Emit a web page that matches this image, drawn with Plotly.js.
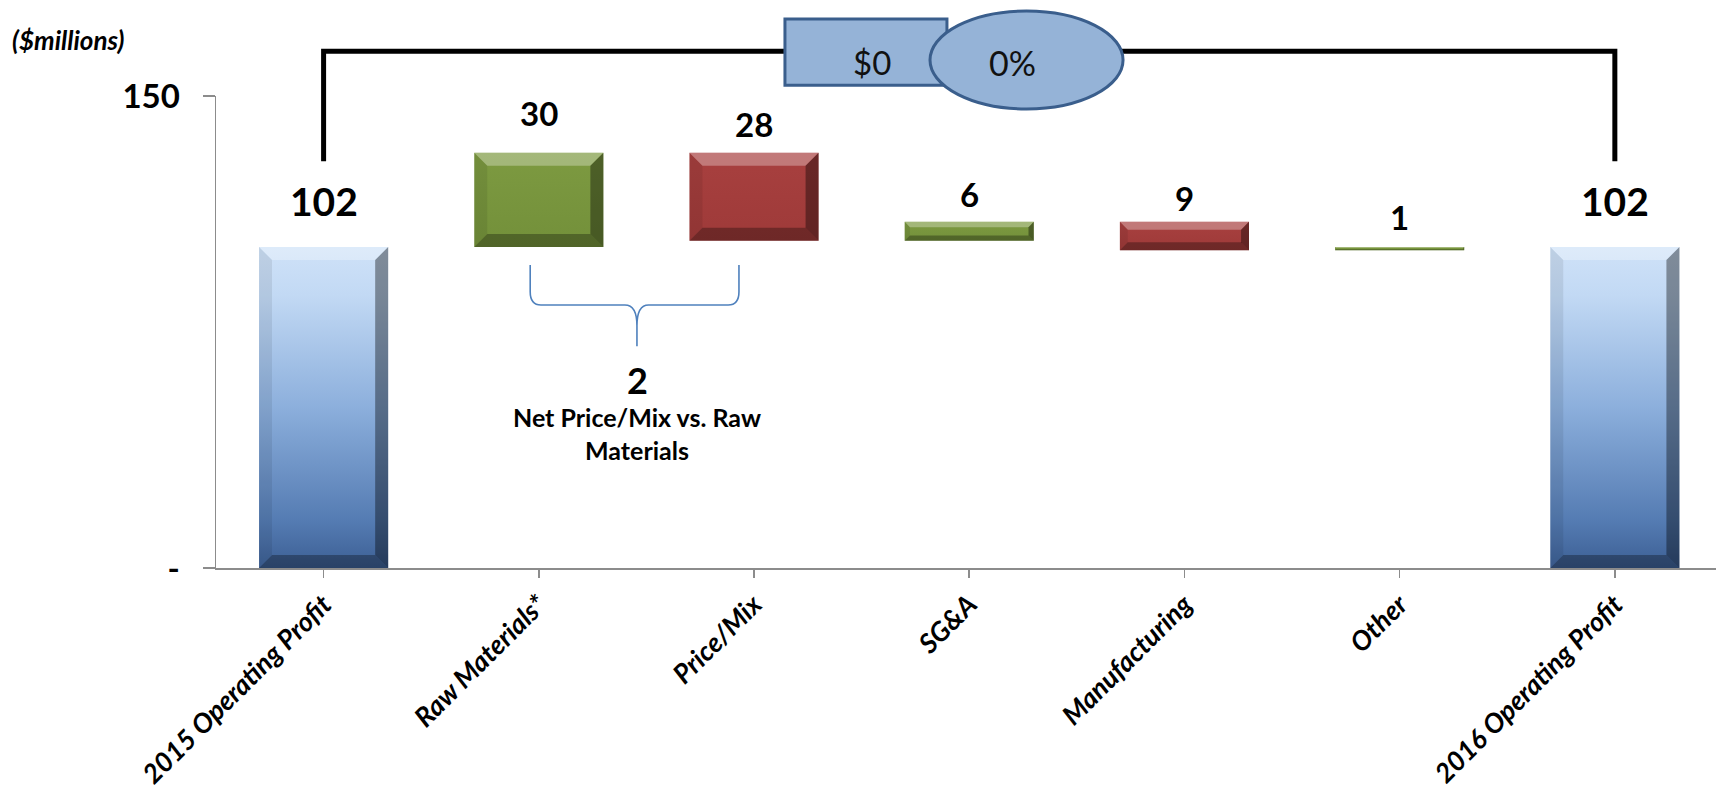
<!DOCTYPE html>
<html>
<head>
<meta charset="utf-8">
<script src="https://cdn.plot.ly/plotly-3.0.1.min.js"></script>
<style>
html,body{margin:0;padding:0;background:#fff;overflow:hidden;}
#chart{width:1716px;height:802px;}
</style>
</head>
<body>
<div id="chart"></div>
<script>
// ---- data ----
var categories = ['2015 Operating Profit', 'Raw Materials*', 'Price/Mix', 'SG&A', 'Manufacturing', 'Other', '2016 Operating Profit'];
var measures = ['total', 'delta', 'delta', 'delta', 'delta', 'delta', 'total'];
var values = [102, 30, -28, 6, -9, 1, 102];
var yTickVals = [0, 150];
var yTickText = ['-', '150'];
var netLabelValue = '2';
var netLabelText = 'Net Price/Mix vs. Raw<br>Materials';
var changeAmount = '$0';
var changePct = '0%';
var unitsText = '($millions)';

// ---- derived waterfall geometry ----
var xs = [], bases = [], heights = [], tops = [], kinds = [];
var running = 0;
for (var i = 0; i < values.length; i++) {
  xs.push(i);
  if (measures[i] === 'total') {
    bases.push(0); heights.push(values[i]); tops.push(values[i]);
    running = values[i]; kinds.push('total');
  } else {
    var start = running, end = running + values[i];
    bases.push(Math.min(start, end));
    heights.push(Math.abs(values[i]));
    tops.push(Math.max(start, end));
    running = end;
    kinds.push(values[i] >= 0 ? 'up' : 'down');
  }
}

// ---- styles ----
var FONT = 'Lato, "Open Sans", sans-serif';
var baseColor = {total: '#6e94c8', up: '#77933c', down: '#a33d3c'};
var labelShift = [46, 40, 29, 28, 24, 30, 46];
var labelSize = [39, 33, 33, 33, 33, 33, 39];

var trace = {
  type: 'bar',
  x: xs,
  y: heights,
  base: bases,
  width: 0.6,
  marker: {color: kinds.map(function(k){ return baseColor[k]; }), line: {width: 0}},
  hoverinfo: 'none'
};

var annotations = [];
for (var j = 0; j < values.length; j++) {
  annotations.push({
    x: xs[j], y: tops[j], xref: 'x', yref: 'y',
    text: String(Math.abs(values[j])),
    showarrow: false, yshift: labelShift[j], yanchor: 'middle',
    font: {family: FONT, size: labelSize[j], color: '#000', weight: 'bold'}
  });
}
annotations.push({
  x: 1.46, y: 59.7, xref: 'x', yref: 'y', text: netLabelValue, showarrow: false,
  yanchor: 'middle',
  font: {family: FONT, size: 36, color: '#000', weight: 'bold'}
});
annotations.push({
  x: 1.455, y: 42.6, xref: 'x', yref: 'y', text: netLabelText, showarrow: false,
  yanchor: 'middle',
  font: {family: FONT, size: 25, color: '#000', weight: 'bold'}
});
annotations.push({
  x: -0.137, y: 1.119, xref: 'paper', yref: 'paper', xanchor: 'left', yanchor: 'middle',
  text: unitsText, showarrow: false,
  font: {family: FONT, size: 26, color: '#000', weight: 'bold', style: 'italic'}
});
annotations.push({
  x: 0.4373, y: 1.072, xref: 'paper', yref: 'paper', xanchor: 'center', yanchor: 'middle',
  text: changeAmount, showarrow: false,
  font: {family: FONT, size: 33, color: '#111'}
});
annotations.push({
  x: 0.5307, y: 1.072, xref: 'paper', yref: 'paper', xanchor: 'center', yanchor: 'middle',
  text: changePct, showarrow: false,
  font: {family: FONT, size: 34, color: '#111'}
});

var shapes = [
  // bracket from first total to last total
  {type: 'path', xref: 'x', yref: 'paper', layer: 'above',
   path: 'M ' + xs[0] + ',0.862 L ' + xs[0] + ',1.095 L ' + xs[xs.length-1] + ',1.095 L ' + xs[xs.length-1] + ',0.862',
   line: {color: '#000', width: 5}},
  // change box
  {type: 'rect', xref: 'paper', yref: 'paper', layer: 'above',
   x0: 0.3793, x1: 0.4873, y0: 1.023, y1: 1.163,
   fillcolor: '#95b3d7', line: {color: '#3a5e8c', width: 3}},
  // change ellipse
  {type: 'circle', xref: 'paper', yref: 'paper', layer: 'above',
   x0: 0.476, x1: 0.6047, y0: 0.9725, y1: 1.180,
   fillcolor: '#95b3d7', line: {color: '#3a5e8c', width: 3}},
  // brace under raw materials / price-mix
  {type: 'path', xref: 'x', yref: 'y', layer: 'above',
   path: 'M 0.96,96.3 L 0.96,87.8 Q 0.96,83.6 1.01,83.6 L 1.40,83.6 Q 1.456,83.6 1.456,77 L 1.456,70.5 ' +
         'M 1.456,77 Q 1.456,83.6 1.51,83.6 L 1.88,83.6 Q 1.93,83.6 1.93,87.8 L 1.93,96.3',
   line: {color: '#4f81bd', width: 1.6}}
];

var layout = {
  width: 1716, height: 802,
  margin: {l: 216, r: 0, t: 96, b: 234},
  paper_bgcolor: '#fff', plot_bgcolor: '#fff',
  showlegend: false,
  xaxis: {
    range: [-0.5, 6.47], tickvals: xs, ticktext: categories, tickangle: -45,
    showline: true, linecolor: '#8c8c8c', linewidth: 2,
    ticks: 'outside', ticklen: 8, tickcolor: '#8c8c8c', tickwidth: 1.5,
    showgrid: false, zeroline: false,
    tickfont: {family: FONT, size: 27, color: '#000', weight: 'bold', style: 'italic'}
  },
  yaxis: {
    range: [0, 150], tickvals: yTickVals, ticktext: yTickText,
    showline: true, linecolor: '#8c8c8c', linewidth: 1.5,
    ticks: 'outside', ticklen: 12, tickcolor: '#8c8c8c', tickwidth: 1.5,
    ticklabelstandoff: 16,
    showgrid: false, zeroline: false,
    tickfont: {family: FONT, size: 33, color: '#000', weight: 'bold'}
  },
  annotations: annotations,
  shapes: shapes
};

var gd = document.getElementById('chart');
Plotly.newPlot(gd, [trace], layout, {staticPlot: true, displayModeBar: false}).then(function () {
  var svg = gd.querySelector('svg.main-svg');
  var defs = svg.querySelector('defs');
  var NS = 'http://www.w3.org/2000/svg';
  var stopsFor = {
    total: [[0, '#cfe2f8'], [0.15, '#c2d9f4'], [0.5, '#8cafdc'], [0.85, '#557cb3'], [1, '#3c5f94']],
    up: [[0, '#7d9a41'], [1, '#73903a']],
    down: [[0, '#a8403f'], [1, '#9e3a39']]
  };
  kinds.forEach(function (k, idx) {
    var g = document.createElementNS(NS, 'linearGradient');
    g.setAttribute('id', 'barGrad' + idx);
    g.setAttribute('x1', '0'); g.setAttribute('y1', '0');
    g.setAttribute('x2', '0'); g.setAttribute('y2', '1');
    stopsFor[k].forEach(function (s) {
      var st = document.createElementNS(NS, 'stop');
      st.setAttribute('offset', s[0]);
      st.setAttribute('stop-color', s[1]);
      g.appendChild(st);
    });
    defs.appendChild(g);
  });
  var paths = gd.querySelectorAll('.barlayer .point path');
  paths.forEach(function (p, idx) {
    p.style.fill = 'url(#barGrad' + idx + ')';
    // bevel edges
    var b = p.getBBox();
    if (b.height < 2) return;
    var s = Math.min(13, b.height * 0.28, b.width * 0.3);
    var x0 = b.x, y0 = b.y, x1 = b.x + b.width, y1 = b.y + b.height;
    var faces = [
      [[x0, y0], [x1, y0], [x1 - s, y0 + s], [x0 + s, y0 + s], 'rgba(255,255,255,0.30)'],
      [[x0, y0], [x0 + s, y0 + s], [x0 + s, y1 - s], [x0, y1], 'rgba(0,0,0,0.08)'],
      [[x1, y0], [x1 - s, y0 + s], [x1 - s, y1 - s], [x1, y1], 'rgba(0,0,0,0.38)'],
      [[x0, y1], [x0 + s, y1 - s], [x1 - s, y1 - s], [x1, y1], 'rgba(0,0,0,0.30)']
    ];
    faces.forEach(function (f) {
      var poly = document.createElementNS(NS, 'polygon');
      poly.setAttribute('points', f.slice(0, 4).map(function (pt) { return pt[0] + ',' + pt[1]; }).join(' '));
      poly.setAttribute('fill', f[4]);
      p.parentNode.appendChild(poly);
    });
  });
});
</script>
</body>
</html>
